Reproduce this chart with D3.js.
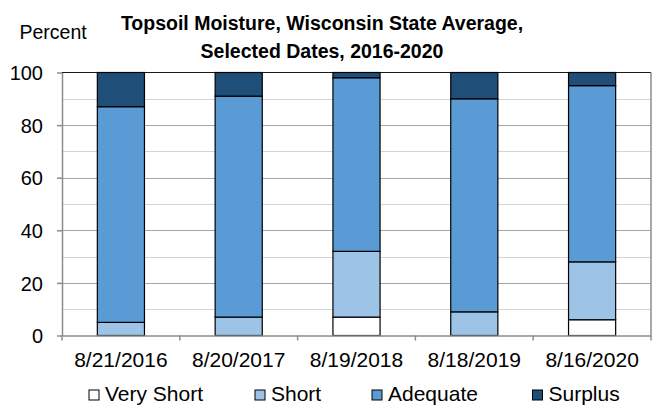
<!DOCTYPE html>
<html>
<head>
<meta charset="utf-8">
<script src="https://cdn.jsdelivr.net/npm/d3@7"></script>
<style>
  html, body { margin: 0; padding: 0; background: #fff; }
  svg { display: block; font-family: "Liberation Sans", Arial, sans-serif; }
</style>
</head>
<body>
<svg id="chart" width="659" height="409"></svg>
<script>
const dates = ["8/21/2016", "8/20/2017", "8/19/2018", "8/18/2019", "8/16/2020"];
const seriesNames = ["Very Short", "Short", "Adequate", "Surplus"];
const veryShort = [0, 0, 7, 0, 6];
const short = [5, 7, 25, 9, 22];
const adequate = [82, 84, 66, 81, 67];
const surplus = [13, 9, 2, 10, 5];
const yTicks = [0, 20, 40, 60, 80, 100];
const yMinor = [10, 30, 50, 70, 90];
const colors = ["#ffffff", "#9dc3e6", "#5b9bd5", "#1f4e79"];

const svg = d3.select("#chart");
const plotLeft = 62, plotRight = 651, plotTop = 72.5, plotBottom = 335.5;

const x = d3.scaleBand().domain(dates).range([plotLeft, plotRight]).paddingInner(0.6).paddingOuter(0.3);
const y = d3.scaleLinear().domain([0, 100]).range([plotBottom, plotTop]);

// minor gridlines
svg.append("g").selectAll("line").data(yMinor).join("line")
  .attr("x1", plotLeft).attr("x2", plotRight)
  .attr("y1", d => Math.round(y(d)) + 0.5).attr("y2", d => Math.round(y(d)) + 0.5)
  .attr("stroke", "#d4d4d4").attr("stroke-width", 1.2);
// major gridlines
svg.append("g").selectAll("line").data(yTicks.filter(d => d > 0 && d < 100)).join("line")
  .attr("x1", plotLeft).attr("x2", plotRight)
  .attr("y1", d => Math.round(y(d)) + 0.5).attr("y2", d => Math.round(y(d)) + 0.5)
  .attr("stroke", "#a6a6a6").attr("stroke-width", 1.2);
// top line
svg.append("line").attr("x1", plotLeft).attr("x2", plotRight)
  .attr("y1", y(100)).attr("y2", y(100))
  .attr("stroke", "#1a1a1a").attr("stroke-width", 1.2);
// right border
svg.append("line").attr("x1", plotRight).attr("x2", plotRight)
  .attr("y1", y(100)).attr("y2", y(0))
  .attr("stroke", "#8c8c8c").attr("stroke-width", 1.5);

// stacked data
const table = dates.map((d, i) => ({
  date: d,
  "Very Short": veryShort[i], "Short": short[i], "Adequate": adequate[i], "Surplus": surplus[i]
}));
const stacked = d3.stack().keys(seriesNames)(table);
const color = d3.scaleOrdinal().domain(seriesNames).range(colors);

svg.append("g").selectAll("g").data(stacked).join("g")
  .attr("fill", d => color(d.key))
  .selectAll("rect").data(d => d.filter(p => p[1] - p[0] > 0)).join("rect")
  .attr("x", d => x(d.data.date))
  .attr("width", x.bandwidth())
  .attr("y", d => y(d[1]))
  .attr("height", d => y(d[0]) - y(d[1]))
  .attr("stroke", "#000").attr("stroke-width", 1.2);

// y axis
const yAxis = svg.append("g").attr("transform", `translate(${plotLeft},0)`)
  .call(d3.axisLeft(y).tickValues(yTicks).tickSize(5).tickPadding(14).tickSizeOuter(0));
yAxis.select(".domain").attr("stroke", "#8c8c8c").attr("stroke-width", 1.5);
yAxis.selectAll(".tick line").attr("stroke", "#8c8c8c").attr("stroke-width", 1.5);
yAxis.selectAll(".tick text").attr("font-size", "20px").attr("fill", "#000")
  .attr("font-family", "Liberation Sans, Arial, sans-serif").attr("dy", "0.36em");

// x axis
const xAxis = svg.append("g").attr("transform", `translate(0,${plotBottom})`)
  .call(d3.axisBottom(x).tickSize(0).tickPadding(17).tickSizeOuter(0));
xAxis.select(".domain").attr("stroke", "#8c8c8c").attr("stroke-width", 1.5);
xAxis.selectAll(".tick text").attr("font-size", "21px").attr("fill", "#000")
  .attr("font-family", "Liberation Sans, Arial, sans-serif");
// category boundary ticks
const boundaries = dates.map(d => x(d) - x.step() * x.paddingOuter()).concat([plotRight]);
svg.append("g").selectAll("line").data(boundaries).join("line")
  .attr("x1", d => d).attr("x2", d => d)
  .attr("y1", plotBottom).attr("y2", plotBottom + 5)
  .attr("stroke", "#8c8c8c").attr("stroke-width", 1.5);

// titles
svg.append("text").attr("x", 19.5).attr("y", 38.5).attr("font-size", "19.5px").attr("fill", "#000").text("Percent");
const title = svg.append("text").attr("text-anchor", "middle").attr("font-weight", "bold")
  .attr("font-size", "19.5px").attr("fill", "#000");
title.append("tspan").attr("x", 322).attr("y", 30).text("Topsoil Moisture, Wisconsin State Average,");
title.append("tspan").attr("x", 322).attr("y", 57.5).text("Selected Dates, 2016-2020");

// legend
const legendX = [89, 255, 372, 532.5];
const lg = svg.append("g").selectAll("g").data(seriesNames).join("g")
  .attr("transform", (d, i) => `translate(${legendX[i]},390)`);
lg.append("rect").attr("width", 10).attr("height", 10)
  .attr("fill", d => color(d)).attr("stroke", "#000").attr("stroke-width", 1);
lg.append("text").attr("x", 16).attr("y", 10.5).attr("font-size", "21px").attr("fill", "#000").text(d => d);
</script>
</body>
</html>
